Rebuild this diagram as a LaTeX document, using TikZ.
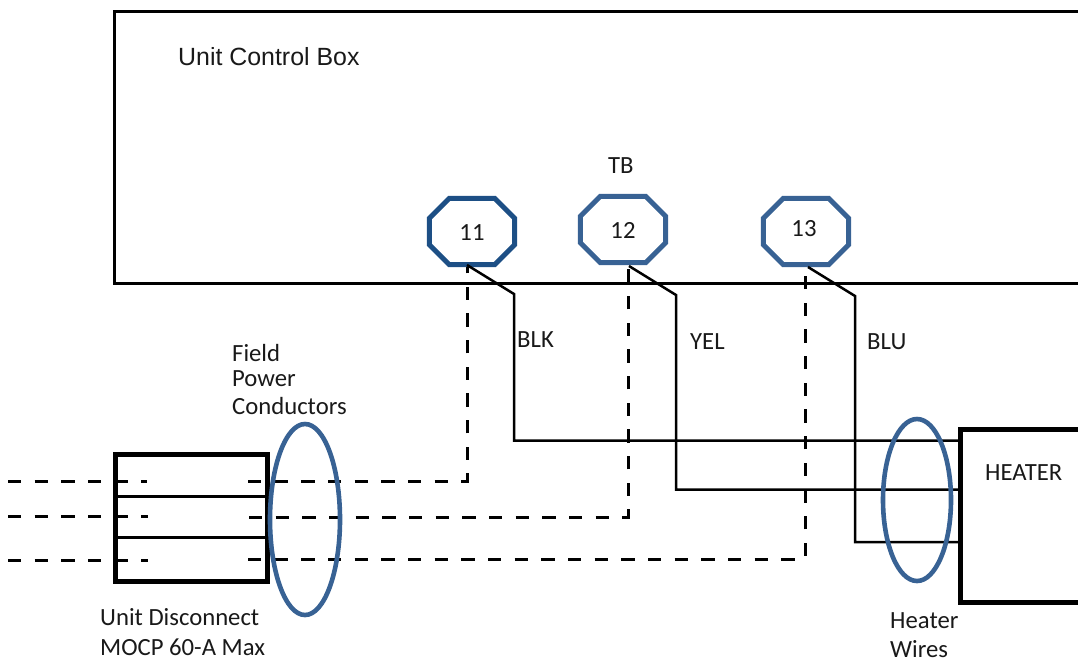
\documentclass[tikz,border=0pt]{standalone}
\usepackage{fontspec}
\setmainfont{Carlito}
\newfontfamily\arialfont{Liberation Sans}
\usetikzlibrary{calc,shapes.geometric}
\definecolor{ringblue}{HTML}{386294}
\definecolor{darkring}{HTML}{1D4F85}
\tikzset{
  x=1pt,y=-1pt,
  txt/.style={anchor=base west,inner sep=0pt,font=\fontsize{24.7}{25}\selectfont,text=black!90},
  numtxt/.style={anchor=base,inner sep=0pt,font=\fontsize{24.7}{25}\selectfont,text=black!90},
  title/.style={anchor=base west,inner sep=0pt,font=\arialfont\fontsize{24.9}{25}\selectfont,text=black!90},
  heavy/.style={draw=black,line width=5pt,line join=miter},
  wire/.style={draw=black,line width=2.5pt,line join=miter},
  dashwire/.style={draw=black,line width=3pt,dash pattern=on 13.4pt off 13.27pt},
  ring/.style={draw=ringblue,line width=4.6pt},
  terminal/.style={inner sep=0pt,minimum width=85pt,minimum height=66pt},
}
\newcommand{\octa}[5][ringblue]{%
  \node[terminal] (#2) at (#3,#4) {};
  \draw[draw=#1,line width=5pt,line join=miter]
    ($(#2.north west)+(20,0)$) -- ($(#2.north east)+(-20,0)$) -- ($(#2.north east)+(0,20)$)
    -- ($(#2.south east)+(0,-20)$) -- ($(#2.south east)+(-20,0)$) -- ($(#2.south west)+(20,0)$)
    -- ($(#2.south west)+(0,-20)$) -- ($(#2.north west)+(0,20)$) -- cycle;
}
\begin{document}
\begin{tikzpicture}
\useasboundingbox (0,0) rectangle (1078,662);
% control box
\coordinate (cbtr) at (1078,11);
\coordinate (cbtl) at (114.5,11);
\coordinate (cbbl) at (114.5,283);
\coordinate (cbbr) at (1078,283);
\draw[draw=black,line width=3pt,line join=miter] (cbtr) -- (cbtl) -- (cbbl) -- (cbbr);
\node[title] (ucb) at (178,65) {Unit Control Box};
\node[txt] (tb) at (608,173) {TB};
% terminals
\octa[darkring]{t11}{472}{231.5}{11}
\octa{t12}{623}{229.5}{12}
\octa{t13}{806}{231.5}{13}
\node[numtxt] (l11) at (472,240) {11};
\node[numtxt] (l12) at (623,238) {12};
\node[numtxt] (l13) at (804,236.5) {13};
% heater
\coordinate (htr) at (1078,429);
\coordinate (htl) at (960.5,429);
\coordinate (hbl) at (960.5,602.5);
\coordinate (hbr) at (1078,602.5);
\draw[heavy] (htr) -- (htl) -- (hbl) -- (hbr);
\node[txt] (heater) at (985,480) {HEATER};
% disconnect
\node[draw=black,line width=5pt,inner sep=0pt,minimum width=152pt,minimum height=127pt] (disc) at (191,517.5) {};
\coordinate (d1l) at (115,496); \coordinate (d1r) at (267,496);
\coordinate (d2l) at (115,537); \coordinate (d2r) at (267,537);
\draw[draw=black,line width=3pt] (d1l) -- (d1r) (d2l) -- (d2r);
% solid wires
\coordinate (b11) at (467,265); \coordinate (k11) at (514,294); \coordinate (h11) at (960,440.5);
\coordinate (b12) at (629,266); \coordinate (k12) at (676,295); \coordinate (h12) at (960,489.5);
\coordinate (b13) at (808,267); \coordinate (k13) at (855,296); \coordinate (h13) at (960,542);
\draw[wire] (b11) -- (k11) |- (h11);
\draw[wire] (b12) -- (k12) |- (h12);
\draw[wire] (b13) -- (k13) |- (h13);
% dashed field conductors
\coordinate (f1a) at (8,481); \coordinate (f1b) at (146.5,481); \coordinate (f1c) at (248,481);
\coordinate (f2a) at (8,516); \coordinate (f2b) at (147.5,516); \coordinate (f2c) at (249,517);
\coordinate (f3a) at (8,560); \coordinate (f3b) at (147.5,560); \coordinate (f3c) at (248,559);
\coordinate (g1) at (467,481); \coordinate (g2) at (628,517); \coordinate (g3) at (805,559);
\coordinate (e1) at (467,267); \coordinate (e2) at (628,267); \coordinate (e3) at (805,268);
\draw[dashwire] (f1a) -- (f1b);
\draw[dashwire] (f2a) -- (f2b);
\draw[dashwire] (f3a) -- (f3b);
\draw[dashwire] (f1c) -- (g1) -- (e1);
\draw[dashwire] (f2c) -- (g2) -- (e2);
\draw[dashwire] (f3c) -- (g3) -- (e3);
% rings
\node[ring,ellipse,inner sep=0pt,minimum width=70pt,minimum height=191pt] (r1) at (305,519.5) {};
\node[ring,ellipse,inner sep=0pt,minimum width=68pt,minimum height=162pt] (r2) at (917,500) {};
% labels
\node[txt] (blk) at (517,347) {BLK};
\node[txt] (yel) at (690,349) {YEL};
\node[txt] (blu) at (867,349) {BLU};
\node[txt] (fp1) at (232,361) {Field};
\node[txt] (fp2) at (232,386) {Power};
\node[txt] (fp3) at (232,414) {Conductors};
\node[txt] (ud1) at (100,625) {Unit Disconnect};
\node[txt] (ud2) at (100,655) {MOCP 60-A Max};
\node[txt] (hw1) at (890,628) {Heater};
\node[txt] (hw2) at (890,657) {Wires};
\end{tikzpicture}
\end{document}
